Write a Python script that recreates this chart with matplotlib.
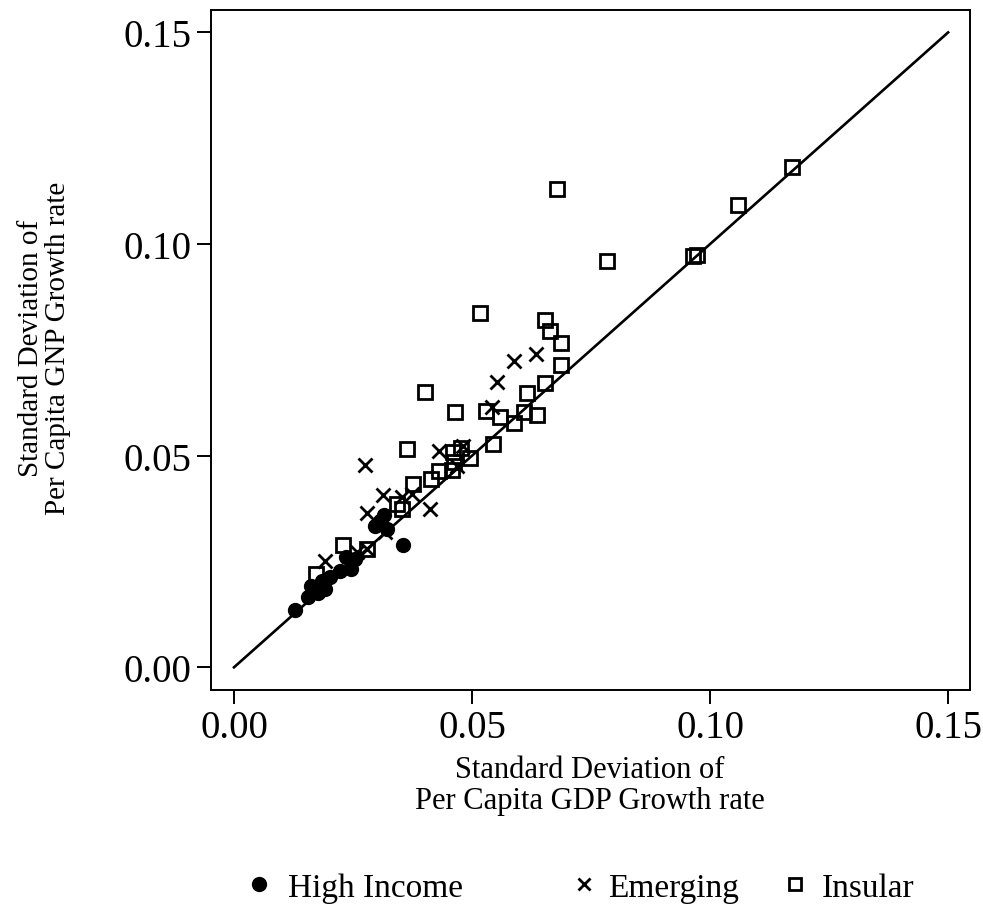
import matplotlib
matplotlib.use("Agg")
import matplotlib.pyplot as plt
from matplotlib.lines import Line2D

plt.rcParams['font.family'] = ['Liberation Serif', 'DejaVu Serif']

# High Income (filled circles)
hi_x = [0.0128, 0.0155, 0.0162, 0.0176, 0.0185, 0.0191, 0.0202, 0.0223, 0.0235,
        0.0246, 0.0254, 0.0296, 0.0315, 0.0321, 0.0307, 0.0355]
hi_y = [0.0135, 0.0166, 0.0192, 0.0176, 0.0204, 0.0185, 0.0213, 0.0227, 0.0261,
        0.0232, 0.0256, 0.0334, 0.0360, 0.0327, 0.0346, 0.0289]

# Emerging (crosses)
em_x = [0.0275, 0.0279, 0.0313, 0.0317, 0.0353, 0.0374, 0.0412, 0.0431, 0.0468,
        0.0481, 0.0542, 0.0553, 0.0588, 0.0634, 0.0191, 0.0258, 0.0279]
em_y = [0.0478, 0.0365, 0.0407, 0.0320, 0.0402, 0.0409, 0.0374, 0.0511, 0.0476,
        0.0523, 0.0615, 0.0674, 0.0724, 0.0740, 0.0251, 0.0272, 0.0279]

# Insular (open squares)
in_x = [0.0172, 0.0229, 0.0279, 0.0342, 0.0353, 0.0363, 0.0376, 0.0401, 0.0414,
        0.0431, 0.0458, 0.0462, 0.0460, 0.0464, 0.0477, 0.0496, 0.0517, 0.0529,
        0.0544, 0.0559, 0.0588, 0.0609, 0.0616, 0.0637, 0.0653, 0.0653, 0.0664,
        0.0679, 0.0687, 0.0687, 0.0784, 0.0964, 0.0973, 0.1059, 0.1172]
in_y = [0.0220, 0.0289, 0.0279, 0.0386, 0.0374, 0.0516, 0.0433, 0.0651, 0.0445,
        0.0464, 0.0466, 0.0485, 0.0508, 0.0603, 0.0518, 0.0494, 0.0836, 0.0605,
        0.0528, 0.0591, 0.0577, 0.0603, 0.0648, 0.0596, 0.0672, 0.0821, 0.0795,
        0.1130, 0.0767, 0.0715, 0.0960, 0.0972, 0.0974, 0.1092, 0.1182]

ref_line = [0.0, 0.15]
ticks = [0.00, 0.05, 0.10, 0.15]
tick_labels = ["0.00", "0.05", "0.10", "0.15"]
legend_labels = ["High Income", "Emerging", "Insular"]

W, H = 983, 920
fig = plt.figure(figsize=(W / 100, H / 100), dpi=100)
ax = fig.add_axes([211/W, 1-690.7/H, (970-211)/W, (690.7-11)/H])

ax.plot(ref_line, ref_line, color='black', lw=1.9, zorder=1)
ax.plot(hi_x, hi_y, linestyle='none', marker='o', ms=10, color='black', zorder=3)
ax.plot(em_x, em_y, linestyle='none', marker='x', ms=10, mew=2.0, color='black', zorder=3)
ax.plot(in_x, in_y, linestyle='none', marker='s', ms=10, mew=2.0, mfc='none', mec='black', zorder=3)

ax.set_xlim(-0.00483, 0.1546)
ax.set_ylim(-0.00529, 0.1553)
ax.set_xticks(ticks)
ax.set_xticklabels(tick_labels)
ax.set_yticks(ticks)
ax.set_yticklabels(tick_labels)
ax.tick_params(direction='out', length=10, width=1.4, labelsize=28, pad=4)
for s in ax.spines.values():
    s.set_linewidth(1.4)

fig.text(590/W, 1-786/H, "Standard Deviation of\nPer Capita GDP Growth rate",
         ha='center', va='center', fontsize=22, linespacing=1.05, multialignment='center')
fig.text(45/W, 1-348/H, "Standard Deviation of\nPer Capita GNP Growth rate",
         ha='center', va='center', fontsize=21, linespacing=1.05, rotation=90,
         multialignment='center')

# legend (manually placed entries)
leg_y = 1 - 885/H
marker_specs = [
    dict(marker='o', ms=10, color='black'),
    dict(marker='x', ms=9, mew=2.0, color='black'),
    dict(marker='s', ms=9, mew=2.0, mfc='none', mec='black'),
]
marker_px = [259, 584, 795]
text_px = [288, 608, 822]
for spec, mx, tx, lab in zip(marker_specs, marker_px, text_px, legend_labels):
    fig.add_artist(Line2D([mx/W], [leg_y], linestyle='none', transform=fig.transFigure, **spec))
    fig.text(tx/W, leg_y, lab, ha='left', va='center_baseline', fontsize=24)

fig.savefig("out.png", dpi=100)
